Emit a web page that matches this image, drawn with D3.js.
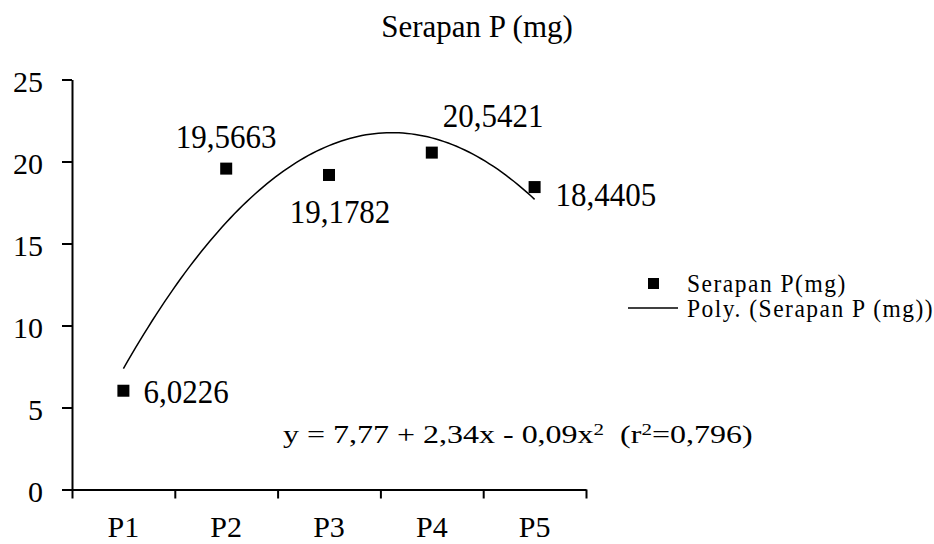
<!DOCTYPE html>
<html>
<head>
<meta charset="utf-8">
<script src="https://cdn.jsdelivr.net/npm/d3@7"></script>
<style>
  body { margin: 0; background: #fff; }
  svg { display: block; }
</style>
</head>
<body>
<svg id="chart" width="934" height="544"></svg>
<script>
// data
var categories = ["P1", "P2", "P3", "P4", "P5"];
var serapanP = [6.0226, 19.5663, 19.1782, 20.5421, 18.4405];
var pointLabels = ["6,0226", "19,5663", "19,1782", "20,5421", "18,4405"];
var yTicks = [0, 5, 10, 15, 20, 25];
var titleText = "Serapan P (mg)";
var legendNames = ["Serapan P(mg)", "Poly. (Serapan P (mg))"];

// where each value label sits relative to its marker (dx, dy, anchor)
var labelPlace = [
    [20, 12, "start"],
    [0, -21, "middle"],
    [11, 48, "middle"],
    [11, -26, "start"],
    [21, 19, "start"]
];

var FONT = "'Liberation Serif', 'DejaVu Serif', serif";

var svg = d3.select("#chart");

var x = d3.scaleLinear().domain([0.5, 5.5]).range([72, 586]),
    y = d3.scaleLinear().domain([0, 25]).range([489.5, 79.5]);

// text helper, the source stretches its glyphs a bit vertically
function label(g, px, py, str, size, sy, anchor) {
    return g.append("text")
        .attr("transform", "translate(" + px + "," + py + ") scale(1," + sy + ")")
        .attr("text-anchor", anchor || "start")
        .style("font-family", FONT)
        .style("font-size", size + "px")
        .attr("fill", "#000")
        .text(str);
}

// title
label(svg, 477, 37, titleText, 31, 1.05, "middle");

// y axis
var yAxis = svg.append("g")
    .attr("transform", "translate(" + x.range()[0] + ",0)")
    .call(d3.axisLeft(y).tickValues(yTicks).tickSize(10).tickSizeOuter(0).tickPadding(19));
yAxis.selectAll("text")
    .style("font-family", FONT)
    .style("font-size", "30px")
    .attr("fill", "#000")
    .attr("dy", "0.4em");

// x axis, ticks sit between the categories
var xAxis = svg.append("g")
    .attr("transform", "translate(0," + y(0) + ")")
    .call(d3.axisBottom(x).tickValues(d3.range(0.5, 5.6, 1)).tickSize(9).tickSizeOuter(0).tickFormat(""));

svg.selectAll(".domain, .tick line")
    .attr("stroke", "#000")
    .attr("stroke-width", 2);

categories.forEach(function(c, i) {
    label(svg, x(i + 1), 537, c, 30, 1, "middle");
});

// polynomial (order 2) trendline, least squares on the points
function quadFit(xs, ys) {
    var n = xs.length, s = [0, 0, 0, 0, 0], t = [0, 0, 0];
    for (var i = 0; i < n; i++) {
        for (var k = 0; k < 5; k++) s[k] += Math.pow(xs[i], k);
        for (var k = 0; k < 3; k++) t[k] += ys[i] * Math.pow(xs[i], k);
    }
    var A = [[s[0], s[1], s[2], t[0]], [s[1], s[2], s[3], t[1]], [s[2], s[3], s[4], t[2]]];
    for (var c = 0; c < 3; c++) {
        for (var r = c + 1; r < 3; r++) {
            var f = A[r][c] / A[c][c];
            for (var k = c; k < 4; k++) A[r][k] -= f * A[c][k];
        }
    }
    var b = [0, 0, 0];
    for (var r = 2; r >= 0; r--) {
        var v = A[r][3];
        for (var k = r + 1; k < 3; k++) v -= A[r][k] * b[k];
        b[r] = v / A[r][r];
    }
    return b;
}

var xs = serapanP.map(function(d, i) { return i + 1; });
var coef = quadFit(xs, serapanP);
var trend = d3.range(1, 5.0001, 0.04).map(function(v) {
    return {x: v, y: coef[0] + coef[1] * v + coef[2] * v * v};
});

var line = d3.line()
    .x(function(d) { return x(d.x); })
    .y(function(d) { return y(d.y); });

svg.append("path")
    .datum(trend)
    .attr("d", line)
    .attr("fill", "none")
    .attr("stroke", "#000")
    .attr("stroke-width", 1.5);

// markers
svg.selectAll(".pt")
    .data(serapanP)
    .enter().append("rect")
    .attr("class", "pt")
    .attr("x", function(d, i) { return x(i + 1) - 6; })
    .attr("y", function(d) { return y(d) - 6; })
    .attr("width", 12)
    .attr("height", 12)
    .attr("fill", "#000");

// value labels
serapanP.forEach(function(d, i) {
    var p = labelPlace[i];
    label(svg, x(i + 1) + p[0], y(d) + p[1], pointLabels[i], 31, 1.1, p[2]);
});

// equation
var eq = svg.append("text")
    .attr("transform", "translate(283,443) scale(1,0.76)")
    .style("font-family", FONT)
    .style("font-size", "32px")
    .attr("fill", "#000");
eq.append("tspan").text("y = 7,77 + 2,34x - 0,09x");
eq.append("tspan").attr("dy", -11).style("font-size", "21px").text("2");
eq.append("tspan").attr("dy", 11).text("\u00a0\u00a0(r");
eq.append("tspan").attr("dy", -11).style("font-size", "21px").text("2");
eq.append("tspan").attr("dy", 11).text("=0,796)");

// legend
var leg = svg.append("g").attr("class", "legend");
leg.append("rect")
    .attr("x", 648).attr("y", 278)
    .attr("width", 11).attr("height", 11)
    .attr("fill", "#000");
leg.append("line")
    .attr("x1", 628).attr("x2", 678)
    .attr("y1", 308).attr("y2", 308)
    .attr("stroke", "#000")
    .attr("stroke-width", 1.6);
legendNames.forEach(function(n, i) {
    label(leg, 687, 292 + i * 25, n, 23.5, 1.05)
        .style("letter-spacing", "1.5px");
});
</script>
</body>
</html>
